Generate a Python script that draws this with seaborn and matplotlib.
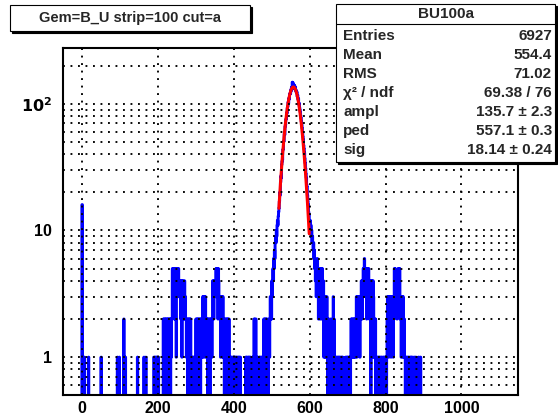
import numpy as np
import pandas as pd
import seaborn as sns
import matplotlib
matplotlib.use('Agg')
import matplotlib.pyplot as plt
from matplotlib import ticker
from matplotlib.patches import Rectangle

# histogram: 1 unit bins from -50 to 1150
bin_lo, bin_hi = -50, 1150

# isolated bins at low x
spike_x = [0, 6, 17, 50, 93, 98, 110, 114, 146, 163, 168]
spike_n = [16, 1, 1, 1, 1, 1, 2, 1, 1, 1, 1]

# consecutive bins 189..497
low_start = 189
low_counts = [1,1,0,1,1,1,0,1,1,1,1,1,1,0,
              0,0,0,0,0,0,0,0,0,0,0,
              2,1,2,2,0,2,1,2,2,1,2,0,2,2,1,2,1,2,2,0,2,1,2,2,
              5,3,5,4,5,2,5,
              2,2,2,1,
              5,4,5,5,3,5,4,
              4,4,3,4,2,4,4,1,4,3,4,4,2,
              3,4,2,3,2,
              2,1,2,2,0,2,1,2,2,1,2,0,2,
              1,1,0,1,1,1,1,0,1,1,0,1,1,
              2,1,2,2,0,2,1,2,2,1,2,2,0,2,1,2,2,1,
              3,2,3,1,3,3,2,3,1,
              2,2,1,2,0,2,2,1,2,2,0,2,1,2,2,1,2,
              4,3,4,2,4,3,4,4,3,
              5,4,5,3,5,2,5,4,3,
              3,2,3,1,3,3,2,3,1,3,
              1,2,1,0,1,2,1,
              2,2,1,2,0,2,2,1,2,
              1,1,0,1,1,1,0,1,1,1,1,0,1,1,1,0,1,1,0,1,1,1,1,0,1,1,0,1,1,1,0,
              0,0,0,0,0,0,0,0,0,0,0,0,
              1,1,0,1,1,1,1,0,1,1,1,0,1,1,
              0,0,0,0,
              1,1,0,1,2,2,1,2,2,2,1,0,1,1,
              0,0,0,
              1,1,0,1,1,1,0,1,1,1,1,0,1,
              2,1,2,2,0,2,2,1,2,
              1,1,0,1,
              2,2,1,2,3,2]

# pedestal peak bins 498..700
peak_start = 498
peak_counts = [3,2,4,3,4,5,4,6,5,7,6,8,9,8,10,9,11,12,11,13,14,15,
               17,20,19,24,27,26,33,35,36,43,44,50,51,58,57,66,68,75,76,85,
               84,93,95,103,101,111,109,118,121,120,129,126,135,131,148,140,146,133,
               141,137,139,130,135,126,128,122,124,114,117,108,110,99,101,94,90,86,
               81,77,72,68,64,59,55,52,47,44,41,37,34,31,28,26,23,22,19,17,16,14,
               13,12,11,
               12,10,11,9,10,8,9,8,7,8,6,7,5,6,4,5,3,5,4,6,5,4,2,4,3,5,2,4,3,5,
               2,4,5,3,2,4,1,2,3,1,
               3,2,1,2,3,1,0,1,2,1,
               1,0,1,2,1,0,1,1,2,1,
               0,3,1,2,1,0,1,1,0,1,
               1,0,1,1,1,0,1,1,0,1,
               1,1,0,1,1,0,1,0,0,0,
               0,0,0,1,1,0,1,1,0,1]

# upper clusters 701..894
high_start = 701
high_counts = [0,1,1,0,1,1,0,1,2,1,
               2,1,2,2,1,2,1,2,2,1,
               2,2,3,1,2,3,2,3,3,2,
               3,1,3,2,3,4,3,2,4,3,
               5,4,5,6,5,3,5,4,5,2,
               5,4,5,3,5,4,2,4,3,4,
               0,4,3,2,4,1,4,3,1,2,
               2,1,2,0,1,1,0,1,1,1,
               0,1,1,0,1,1,1,0,1,1,
               0,0,1,1,0,1,1,0,1,0,
               1,0,1,2,3,2,3,1,3,2,
               2,3,2,1,3,2,3,2,3,1,
               3,2,5,3,5,4,4,3,4,2,
               4,4,5,3,5,4,5,2,3,3,
               1,3,2,3,1,3,2,1,2,1,
               1,0,1,1,0,1,1,1,0,1,
               1,0,0,1,1,0,1,0,1,0,
               0,1,0,0,0,1,1,0,0,1,
               0,0,0,0,0,1,1,0,0,0,
               1,1,0,0]

# fit parameters from the stats box
fit_ampl, fit_ped, fit_sig = 135.7, 557.1, 18.14
fit_lo, fit_hi = 519, 599

stat_labels = ['Entries', 'Mean', 'RMS', 'χ² / ndf', 'ampl', 'ped', 'sig']
stat_values = ['6927', '554.4', '71.02', '69.38 / 76', '135.7 ± 2.3', '557.1 ± 0.3', '18.14 ± 0.24']

centers = np.arange(bin_lo, bin_hi) + 0.5
counts = np.zeros(len(centers))
for x, n in zip(spike_x, spike_n):
    counts[x - bin_lo] = n
for start, vals in [(low_start, low_counts), (peak_start, peak_counts), (high_start, high_counts)]:
    counts[start - bin_lo:start - bin_lo + len(vals)] = vals
df = pd.DataFrame({'x': centers, 'n': counts})

fit_x = np.linspace(fit_lo, fit_hi, 200)
fit_y = fit_ampl * np.exp(-0.5 * ((fit_x - fit_ped) / fit_sig) ** 2)

sns.set_style('white')
plt.rcParams['font.family'] = ['Liberation Sans', 'DejaVu Sans']
plt.rcParams['font.weight'] = 'bold'
plt.rcParams['mathtext.default'] = 'bf'

W, H = 558, 417
fig = plt.figure(figsize=(W / 100, H / 100), dpi=100)
ax = fig.add_axes([63 / W, 1 - 395.3 / H, (518.3 - 63) / W, (395.3 - 47.7) / H])

sns.histplot(data=df, x='x', weights='n', binwidth=1, binrange=(bin_lo, bin_hi),
             element='step', fill=False, color='#0000ff', linewidth=2.1, ax=ax)
ax.set_yscale('log')
sns.lineplot(x=fit_x, y=fit_y, color='#ff0000', linewidth=2.2, ax=ax)

ax.set_xlim(bin_lo, bin_hi)
ax.set_ylim(0.5, 277)
ax.set_xlabel('')
ax.set_ylabel('')

ax.xaxis.set_major_locator(ticker.MultipleLocator(200))
ax.xaxis.set_minor_locator(ticker.MultipleLocator(50))
ax.yaxis.set_major_locator(ticker.FixedLocator([1, 10, 100]))
ax.yaxis.set_major_formatter(ticker.FixedFormatter(['1', '10', r'$\mathbf{10^{2}}$']))
ax.yaxis.set_minor_locator(ticker.LogLocator(base=10, subs=np.arange(2, 10)))
ax.yaxis.set_minor_formatter(ticker.NullFormatter())

ax.tick_params(axis='both', which='both', direction='in', colors='black',
               labelsize=11.5, top=False, right=False)
ax.tick_params(axis='x', which='major', length=7, width=1.1, pad=4)
ax.tick_params(axis='x', which='minor', length=3.5, width=1.1)
ax.tick_params(axis='y', which='major', length=9, width=1.1, pad=8)
ax.tick_params(axis='y', which='minor', length=4.5, width=1.1)
for lab in ax.get_xticklabels() + ax.get_yticklabels():
    lab.set_fontweight('bold')

ax.grid(True, which='major', axis='x', color='black', linestyle=(0, (1, 3)), linewidth=1.35)
ax.grid(True, which='both', axis='y', color='black', linestyle=(0, (1, 3)), linewidth=1.35)
ax.set_axisbelow(False)
for sp in ax.spines.values():
    sp.set_color('black')
    sp.set_linewidth(1.5)


def box(x0, y0, x1, y1):
    fig.add_artist(Rectangle((x0 / W + 2 / W, 1 - y1 / H - 2 / H), (x1 - x0) / W, (y1 - y0) / H,
                             transform=fig.transFigure, facecolor='black', edgecolor='black', lw=0.8, zorder=5))
    fig.add_artist(Rectangle((x0 / W, 1 - y1 / H), (x1 - x0) / W, (y1 - y0) / H,
                             transform=fig.transFigure, facecolor='white', edgecolor='black', lw=0.8, zorder=6))


box(10, 5, 250, 31)
fig.text(130 / W, 1 - 18 / H, 'Gem=B_U strip=100 cut=a', ha='center', va='center',
         fontsize=10.5, fontweight='bold', zorder=7)

box(336, 4, 555, 162)
fig.add_artist(plt.Line2D([336 / W, 555 / W], [1 - 24 / H, 1 - 24 / H], transform=fig.transFigure,
                          color='black', lw=0.8, zorder=7))
fig.text(446 / W, 1 - 14 / H, 'BU100a', ha='center', va='center', fontsize=11, fontweight='bold', zorder=7)
row_y = [36, 55, 74, 93, 112, 131, 150]
for lab, val, y in zip(stat_labels, stat_values, row_y):
    fig.text(343 / W, 1 - y / H, lab, ha='left', va='center', fontsize=11, fontweight='bold', zorder=7)
    fig.text(552 / W, 1 - y / H, val, ha='right', va='center', fontsize=11, fontweight='bold', zorder=7)

plt.savefig('out.png', dpi=100)
